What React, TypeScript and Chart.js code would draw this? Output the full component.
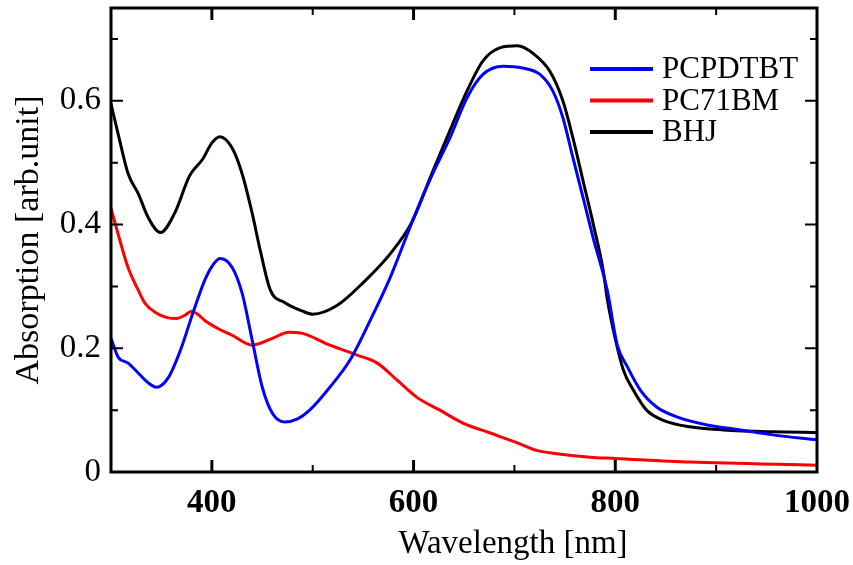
import React, { useEffect, useRef } from "react";
import { Chart, registerables } from "chart.js";

Chart.register(...registerables);

// ---- data ----
const seriesLabels = ["PCPDTBT", "PC71BM", "BHJ"];
const seriesColors = ["#0000ff", "#ff0000", "#000000"];

const pcpdtbtWavelength = [300, 307, 317, 327, 337, 345, 357, 370, 381, 393, 400, 408, 420, 430, 440, 450, 460, 472, 485, 497, 517, 537, 557, 577, 599, 617, 636, 653, 669, 689, 708, 725, 738, 748, 758, 768, 778, 792, 802, 812, 825, 841, 861, 891, 924, 956, 1000];
const pcpdtbtAbsorption = [0.216, 0.186, 0.176, 0.16, 0.144, 0.137, 0.153, 0.202, 0.256, 0.31, 0.332, 0.345, 0.331, 0.289, 0.213, 0.137, 0.095, 0.081, 0.086, 0.1, 0.137, 0.181, 0.245, 0.315, 0.406, 0.475, 0.54, 0.605, 0.643, 0.656, 0.653, 0.643, 0.616, 0.573, 0.508, 0.444, 0.379, 0.294, 0.205, 0.17, 0.132, 0.105, 0.089, 0.076, 0.068, 0.06, 0.052];

const pc71bmWavelength = [300, 307, 317, 327, 334, 344, 355, 365, 373, 380, 386, 393, 406, 420, 440, 460, 476, 490, 517, 544, 564, 584, 603, 626, 649, 676, 703, 722, 740, 775, 800, 874, 1000];
const pc71bmAbsorption = [0.426, 0.385, 0.33, 0.294, 0.272, 0.258, 0.25, 0.248, 0.253, 0.26, 0.255, 0.245, 0.232, 0.221, 0.205, 0.216, 0.226, 0.224, 0.205, 0.189, 0.176, 0.148, 0.121, 0.1, 0.079, 0.063, 0.047, 0.035, 0.03, 0.024, 0.022, 0.016, 0.011];

const bhjWavelength = [300, 307, 317, 327, 337, 349, 363, 378, 391, 400, 408, 420, 430, 440, 448, 458, 472, 490, 500, 524, 550, 577, 598, 617, 636, 653, 669, 686, 703, 719, 735, 748, 758, 768, 778, 788, 792, 800, 808, 818, 831, 847, 874, 907, 956, 1000];
const bhjAbsorption = [0.595, 0.547, 0.482, 0.45, 0.411, 0.387, 0.418, 0.479, 0.506, 0.532, 0.542, 0.524, 0.482, 0.418, 0.358, 0.294, 0.274, 0.26, 0.255, 0.269, 0.306, 0.353, 0.403, 0.478, 0.552, 0.616, 0.665, 0.686, 0.689, 0.676, 0.648, 0.6, 0.54, 0.471, 0.402, 0.326, 0.28, 0.215, 0.165, 0.132, 0.1, 0.084, 0.073, 0.068, 0.065, 0.064];

const xMajorTicks = [400, 600, 800, 1000];
const xMinorTicks = [500, 700, 900];
const yMajorTicks = [0, 0.2, 0.4, 0.6];
const yMinorTicks = [0.1, 0.3, 0.5, 0.7];

const xTitle = "Wavelength [nm]";
const yTitle = "Absorption [arb.unit]";

const SERIF = "'Liberation Serif', 'Times New Roman', serif";

function toPoints(xs: number[], ys: number[]) {
  return xs.map((x, i) => ({ x, y: ys[i] }));
}

const framePlugin = {
  id: "frameTicksLegend",
  afterDatasetsDraw(chart: any) {
    const { ctx, chartArea } = chart;
    const { left, top, right, bottom } = chartArea;
    const xs = chart.scales.x;
    const ys = chart.scales.y;
    ctx.save();
    ctx.strokeStyle = "#000";
    ctx.lineCap = "butt";
    const drawX = (vals: number[], len: number, w: number) => {
      ctx.lineWidth = w;
      vals.forEach((v) => {
        const p = xs.getPixelForValue(v);
        if (p <= left + 1 || p >= right - 1) return;
        ctx.beginPath();
        ctx.moveTo(p, bottom);
        ctx.lineTo(p, bottom - len);
        ctx.moveTo(p, top);
        ctx.lineTo(p, top + len);
        ctx.stroke();
      });
    };
    const drawY = (vals: number[], len: number, w: number) => {
      ctx.lineWidth = w;
      vals.forEach((v) => {
        const p = ys.getPixelForValue(v);
        if (p <= top + 1 || p >= bottom - 1) return;
        ctx.beginPath();
        ctx.moveTo(left, p);
        ctx.lineTo(left + len, p);
        ctx.moveTo(right, p);
        ctx.lineTo(right - len, p);
        ctx.stroke();
      });
    };
    drawX(xMajorTicks, 12, 3);
    drawX(xMinorTicks, 7, 2);
    drawY(yMajorTicks, 12, 2);
    drawY(yMinorTicks, 7, 2);
    ctx.lineWidth = 3;
    ctx.strokeRect(left, top, right - left, bottom - top);

    // legend
    const lx0 = 590, lx1 = 653, ly0 = 69, dy = 31.5;
    chart.data.datasets.forEach((ds: any, i: number) => {
      const yy = ly0 + i * dy;
      ctx.strokeStyle = ds.borderColor;
      ctx.lineWidth = 4;
      ctx.beginPath();
      ctx.moveTo(lx0, yy);
      ctx.lineTo(lx1, yy);
      ctx.stroke();
      ctx.fillStyle = "#000";
      ctx.font = `31px ${SERIF}`;
      ctx.textAlign = "left";
      ctx.textBaseline = "middle";
      ctx.fillText(ds.label, 662, yy + 1);
    });

    // axis titles
    ctx.fillStyle = "#000";
    ctx.font = `33px ${SERIF}`;
    ctx.textAlign = "center";
    ctx.textBaseline = "alphabetic";
    ctx.fillText(xTitle, 513, 553);
    ctx.save();
    ctx.translate(38, 240);
    ctx.rotate(-Math.PI / 2);
    ctx.font = `34px ${SERIF}`;
    ctx.fillText(yTitle, 0, 0);
    ctx.restore();

    ctx.restore();
  },
};

export default function App() {
  const ref = useRef<HTMLCanvasElement | null>(null);
  useEffect(() => {
    document.body.style.margin = "0";
    const canvas = ref.current!;
    const datasets = [
      toPoints(pcpdtbtWavelength, pcpdtbtAbsorption),
      toPoints(pc71bmWavelength, pc71bmAbsorption),
      toPoints(bhjWavelength, bhjAbsorption),
    ].map((data, i) => ({
      label: seriesLabels[i],
      data,
      borderColor: seriesColors[i],
      backgroundColor: seriesColors[i],
      borderWidth: 3,
      pointRadius: 0,
      tension: 0.4,
      cubicInterpolationMode: "monotone" as const,
      fill: false,
    }));
    const zeroPad = (s: any) => {
      s.paddingTop = 0;
      s.paddingBottom = 0;
      s.paddingLeft = 0;
      s.paddingRight = 0;
    };
    const chart = new Chart(canvas, {
      type: "line",
      data: { datasets },
      options: {
        animation: false,
        responsive: false,
        devicePixelRatio: 1,
        layout: { padding: { top: 8, right: 36, left: 0, bottom: 0 } },
        plugins: { legend: { display: false }, tooltip: { enabled: false } },
        scales: {
          x: {
            type: "linear",
            min: 300,
            max: 1000,
            afterBuildTicks: (s: any) => {
              s.ticks = xMajorTicks.map((v) => ({ value: v }));
            },
            afterFit: (s: any) => {
              s.height = 93;
              zeroPad(s);
            },
            grid: { display: false, drawTicks: false },
            border: { display: false },
            ticks: {
              autoSkip: false,
              maxRotation: 0,
              padding: 12,
              color: "#000",
              font: { family: SERIF, size: 33, weight: "bold" },
              callback: (v: any) => String(v),
            },
          },
          y: {
            type: "linear",
            min: 0,
            max: 0.75,
            afterBuildTicks: (s: any) => {
              s.ticks = yMajorTicks.map((v) => ({ value: v }));
            },
            afterFit: (s: any) => {
              s.width = 111;
              zeroPad(s);
            },
            grid: { display: false, drawTicks: false },
            border: { display: false },
            ticks: {
              autoSkip: false,
              padding: 10,
              color: "#000",
              font: { family: SERIF, size: 33 },
              callback: (v: any) => (v === 0 ? "0" : Number(v).toFixed(1)),
            },
          },
        },
      },
      plugins: [framePlugin],
    });
    return () => chart.destroy();
  }, []);
  return (
    <div style={{ width: 853, height: 565 }}>
      <canvas ref={ref} width={853} height={565} style={{ display: "block" }} />
    </div>
  );
}
